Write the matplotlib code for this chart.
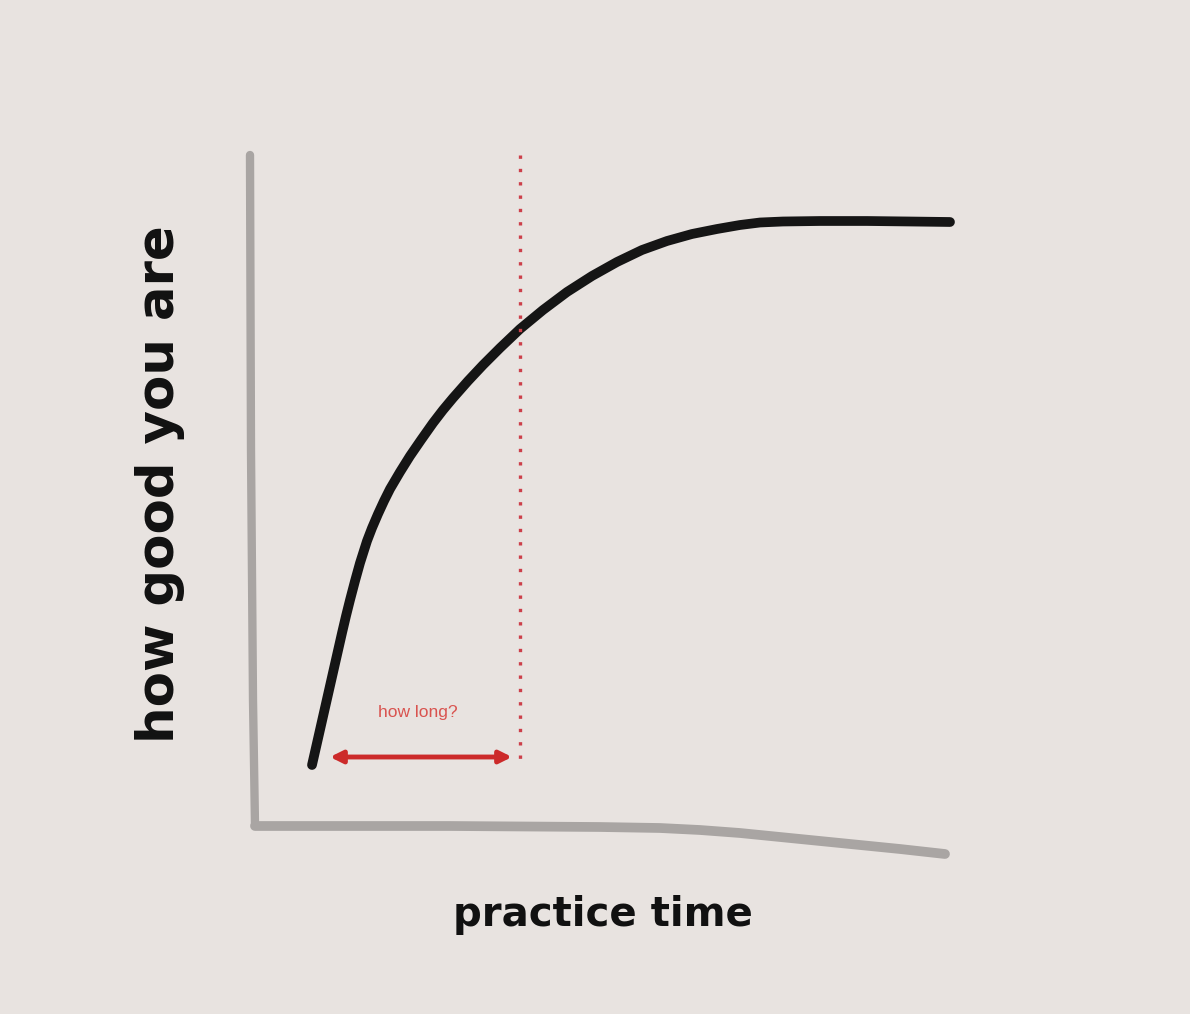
import numpy as np
import matplotlib.pyplot as plt

# hand-drawn sketch, read in picture pixel units (x right, y down)
curve_x = [312, 317, 322, 327, 332, 337, 342, 346, 350, 355, 360, 367, 372, 378, 384, 390,
           400, 410, 421, 433, 443, 453, 468, 483, 500, 520, 543, 567, 592, 617, 642, 667,
           692, 717, 740, 760, 783, 820, 867, 910, 950]
curve_y = [765, 743, 721, 699, 677, 655, 633, 616, 600, 581, 563, 541, 528, 514, 501, 489,
           472, 456, 440, 423, 410, 398, 381, 365, 348, 329, 310, 292, 276, 262, 250, 241,
           234, 229, 225, 222.5, 221.5, 221, 221, 221.5, 222]

yaxis_x = [250, 251, 253, 255]
yaxis_y = [155, 450, 700, 825]
xaxis_x = [255, 450, 600, 660, 700, 740, 780, 820, 860, 900, 945]
xaxis_y = [826, 826, 827, 828, 830, 833, 837, 841, 845, 849, 854]

marker_x = 520
arrow_start, arrow_end, arrow_y = 330, 512, 757

bg = "#e8e3e0"

fig = plt.figure(figsize=(11.9, 10.14), dpi=100, facecolor=bg)
ax = fig.add_axes([0, 0, 1, 1])
ax.set_facecolor(bg)
ax.set_xlim(0, 1190)
ax.set_ylim(1014, 0)
ax.axis("off")

# axes
ax.plot(yaxis_x, yaxis_y, color="#a9a5a3", lw=6, solid_capstyle="round", solid_joinstyle="round")
ax.plot(xaxis_x, xaxis_y, color="#a9a5a3", lw=7, solid_capstyle="round", solid_joinstyle="round")

# skill curve
ax.plot(curve_x, curve_y, color="#151515", lw=7, solid_capstyle="round", solid_joinstyle="round")

# red dotted marker
ax.plot([marker_x, marker_x], [155, 765], color="#cc3f4a", lw=2.4, ls=(0, (1, 3)))

# double arrow
ax.annotate("", xy=(arrow_start, arrow_y), xytext=(arrow_end, arrow_y),
            arrowprops=dict(arrowstyle="<|-|>", color="#cc2a2a", lw=3.5,
                            mutation_scale=18, shrinkA=0, shrinkB=0))
ax.text(418, 712, "how long?", color="#d9534f", fontsize=12.5,
        ha="center", va="center", family="Liberation Sans")

# labels
ax.text(603, 915, "practice time", color="#111111", fontsize=29, fontweight="bold",
        ha="center", va="center", family="DejaVu Sans")
ax.text(160, 484, "how good you are", color="#111111", fontsize=37, fontweight="bold",
        ha="center", va="center", rotation=90, family="DejaVu Sans")

fig.savefig("out.png", dpi=100, facecolor=bg)
